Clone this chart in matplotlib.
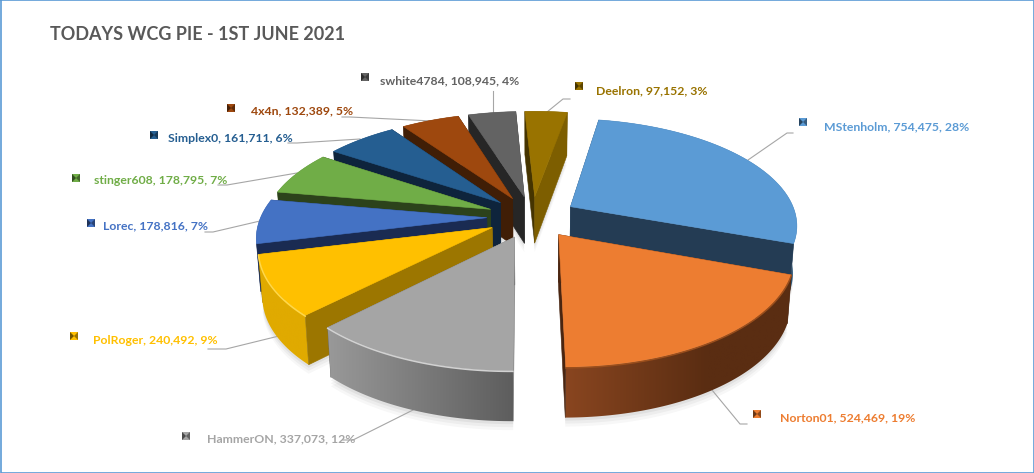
import numpy as np
import matplotlib
matplotlib.use('Agg')
import matplotlib.pyplot as plt
from matplotlib.colors import to_rgb
from matplotlib.patches import Polygon

names = ['MStenholm', 'Norton01', 'HammerON', 'PolRoger', 'Lorec', 'stinger608',
         'Simplex0', '4x4n', 'swhite4784', 'Deelron']
values = [754475, 524469, 337073, 240492, 178816, 178795, 161711, 132389, 108945, 97152]
percents = [28, 19, 12, 9, 7, 7, 6, 5, 4, 3]

top_colors = ['#5B9BD5', '#ED7D31', '#A5A5A5', '#FFC000', '#4472C4', '#70AD47',
              '#255E91', '#9E480E', '#636363', '#997300']
start_cut = ['#2A4A68', '#4A2510', '#8A8A8A', '#9C7600', '#1A2B52', '#2C421B',
             '#0E243C', '#401E06', '#262626', '#453400']
end_cut = ['#243C54', '#4A2510', '#6A6A6A', '#9C7600', '#1A2B52', '#2C421B',
           '#0E243C', '#401E06', '#333333', '#7D5E00']
wall_left = ['#2A5578', '#8A4620', '#9A9A9A', '#E0AA00', '#2A4A85', '#4A7530',
             '#173F63', '#662E09', '#404040', '#665000']
wall_right = ['#2A5578', '#5A2D12', '#5C5C5C', '#E0AA00', '#2A4A85', '#4A7530',
              '#173F63', '#662E09', '#404040', '#665000']
edge_colors = [None, '#9A4E1C', '#D2D2D2', '#FFD84A', None, None, None, None, None, None]

label_x = [824, 780, 207, 93, 103, 94, 168, 251, 380, 596]
label_y = [127, 418, 439, 340, 226, 180, 138, 111, 81, 91]
key_x = [803, 757, 186, 74, 91, 76, 154, 231, 365, 579]
key_y = [122, 414, 436, 336, 223, 178, 135, 108, 77, 86]
leaders = [
    [(748, 160), (787, 133), (793, 133)],
    [(712, 390), (740, 424), (747, 424)],
    [(413, 410), (353, 440), (343, 440)],
    [(283, 335), (226, 349), (208, 349)],
    [(260, 221), (213, 232), (205, 232)],
    [(297, 173), (227, 185), (218, 185)],
    [(360, 139), (297, 143), (288, 143)],
    [(432, 121), (350, 117), (342, 117)],
    [(493, 113), (493, 91)],
    [(547, 112), (563, 99), (570, 99)],
]

draw_order = [9, 8, 7, 6, 5, 4, 0, 3, 1, 2]

first_angle = 10.0
explode = 0.2
cx, cy = 532, 217
rx, ry = 226, 105
persp = 0.16


def project(x, y):
    w = 1 + persp * y
    return cx + rx * x / w, cy - ry * y / w


def drop(sx, sy, y):
    # bottom of the slab, a bit thinner at the back
    h = 50 - 3.0 * (y + 1)
    return cx + (sx - cx) * 0.985, sy + h


fig = plt.figure(figsize=(10.34, 4.73), dpi=100)
ax = fig.add_axes([0, 0, 1, 1])

total = sum(values)
sweeps = [v / total * 360 for v in values]
starts = first_angle + np.cumsum([0] + sweeps[:-1])

for z, i in enumerate(draw_order):
    z = z + 2
    t = np.radians(np.arange(starts[i], starts[i] + sweeps[i] + 0.5, 1.0))
    t[-1] = np.radians(starts[i] + sweeps[i])
    mid = np.radians(starts[i] + sweeps[i] / 2)
    ox, oy = explode * np.sin(mid), explode * np.cos(mid)
    gx = np.sin(t) + ox
    gy = np.cos(t) + oy
    sx, sy = project(gx, gy)
    bx, by = drop(sx, sy, gy)
    ax0, ay0 = project(ox, oy)
    abx, aby = drop(ax0, ay0, oy)

    # soft shadow under the slice
    for grow, alpha in [(9, 0.03), (6, 0.04), (3, 0.05)]:
        ax.fill(np.r_[abx, bx], np.r_[aby + grow, by + grow], color='black', alpha=alpha, lw=0, zorder=1)

    start_xy = ([ax0, sx[0], bx[0], abx], [ay0, sy[0], by[0], aby])
    end_xy = ([ax0, sx[-1], bx[-1], abx], [ay0, sy[-1], by[-1], aby])
    start_front = np.sin(t[0]) < 0
    end_front = np.sin(t[-1]) > 0

    # cut faces turned away from the viewer go under the wall
    if not start_front:
        ax.fill(*start_xy, color=start_cut[i], lw=0.4, zorder=z)
    if not end_front:
        ax.fill(*end_xy, color=end_cut[i], lw=0.4, zorder=z)

    # outer wall, gradient across the screen and clipped to the wall shape
    left = np.array(to_rgb(wall_left[i]))
    right = np.array(to_rgb(wall_right[i]))
    span = 140 if i == 1 else sx.max() - sx.min()
    f = np.clip((np.linspace(sx.min(), sx.max(), 200) - sx.min()) / span, 0, 1)
    grad = (left + (right - left) * f[:, None])[None, :, :]
    wall = Polygon(np.c_[np.r_[sx, bx[::-1]], np.r_[sy, by[::-1]]], closed=True, transform=ax.transData,
                   fc='none', ec='none')
    ax.add_patch(wall)
    im = ax.imshow(grad, extent=(sx.min() - 4, sx.max() + 4, by.max() + 2, sy.min() - 2), aspect='auto', zorder=z)
    im.set_clip_path(wall)

    if start_front:
        ax.fill(*start_xy, color=start_cut[i], lw=0.4, zorder=z)
    if end_front:
        ax.fill(*end_xy, color=end_cut[i], lw=0.4, zorder=z)
    ax.fill(np.r_[ax0, sx], np.r_[ay0, sy], color=top_colors[i], lw=0.4, zorder=z)
    if edge_colors[i]:
        ax.plot(sx, sy + 0.8, color=edge_colors[i], lw=1.1, zorder=z)

for i in range(len(names)):
    pts = np.array(leaders[i])
    ax.plot(pts[:, 0], pts[:, 1], color='#A6A6A6', lw=0.8, zorder=1.5)
    ax.text(label_x[i], label_y[i], f'{names[i]}, {values[i]:,}, {percents[i]}%',
            color=top_colors[i], fontsize=8.85, fontweight='bold', family='Lato',
            va='center', ha='left', zorder=21)
    # little bevelled legend key
    kx, ky, s = key_x[i], key_y[i], 4
    base = np.array(to_rgb(top_colors[i]))
    ax.fill([kx - s, kx + s, kx + s, kx - s], [ky - s, ky - s, ky + s, ky + s], color=base, lw=0, zorder=21)
    ax.fill([kx - s, kx, kx - s], [ky - s, ky, ky + s], color=base * 0.45, lw=0, zorder=22)
    ax.fill([kx + s, kx, kx + s], [ky - s, ky, ky + s], color=base * 0.6, lw=0, zorder=22)

ax.text(50, 35, 'TODAYS WCG PIE - 1ST JUNE 2021', color='#595959', fontsize=13,
        fontweight='bold', family='Lato', va='center', ha='left')

ax.plot([0.5, 1033.5, 1033.5, 0.5, 0.5], [0.5, 0.5, 472.5, 472.5, 0.5], color='#5B9BD5', lw=1.2, zorder=30)

ax.set_xlim(0, 1034)
ax.set_ylim(473, 0)
ax.axis('off')

fig.savefig('out.png', dpi=100)
